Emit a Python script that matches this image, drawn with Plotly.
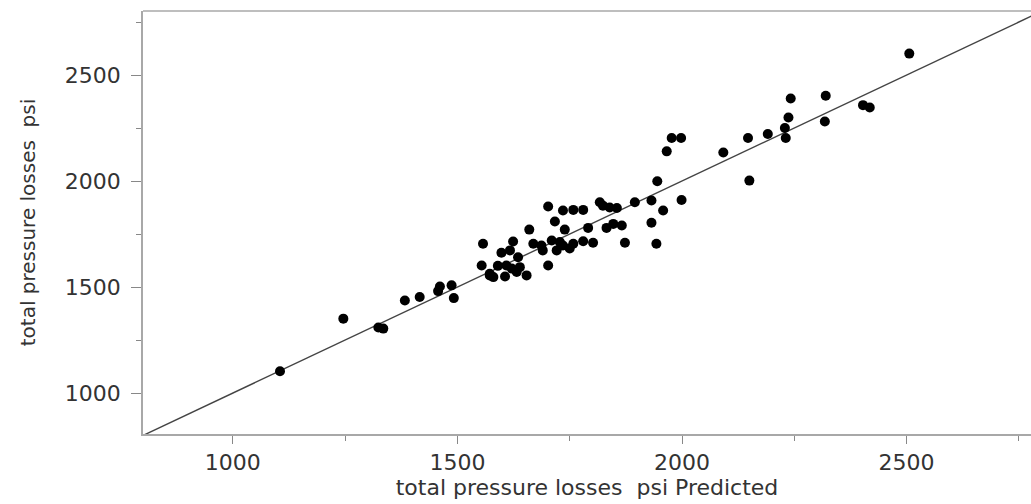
import plotly.graph_objects as go

# Predicted (x) vs actual (y) total pressure losses, psi
predicted = [1105, 1246, 1324, 1335, 1383, 1416, 1461, 1487, 1457, 1492,
             1572, 1580, 1606, 1632, 1654, 1554, 1609, 1621, 1639, 1702,
             1598, 1617, 1635, 1557, 1624, 1660, 1669, 1687, 1710, 1728,
             1717, 1739, 1735, 1758, 1780, 1802, 1690, 1721, 1750, 1873,
             1943, 1702, 1735, 1758, 1780, 1817, 1824, 1839, 1855, 1895,
             1932, 1999, 1958, 1932, 1791, 1832, 1847, 1866, 1945, 1966,
             1977, 1998, 2092, 2147, 2150, 2191, 2229, 2231, 2237, 2242,
             2320, 2318, 2403, 2418, 2506, 1572, 1590]
actual = [1103, 1351, 1309, 1304, 1437, 1453, 1503, 1508, 1481, 1448,
          1563, 1547, 1550, 1571, 1555, 1602, 1602, 1587, 1594, 1602,
          1662, 1673, 1641, 1704, 1715, 1771, 1704, 1696, 1720, 1712,
          1809, 1771, 1696, 1704, 1716, 1709, 1673, 1673, 1682, 1709,
          1704, 1880, 1861, 1864, 1864, 1900, 1884, 1875, 1873, 1900,
          1908, 1911, 1861, 1803, 1779, 1779, 1798, 1790, 1999, 2140,
          2203, 2203, 2135, 2203, 2002, 2222, 2250, 2203, 2300, 2389,
          2402, 2281, 2358, 2347, 2601, 1555, 1600]

# identity reference line (y = x)
diag = [700, 2900]

x_ticks = [1000, 1500, 2000, 2500]
y_ticks = [1000, 1500, 2000, 2500]
minor_ticks = [1250, 1750, 2250, 2750]

fig = go.Figure()
fig.add_trace(go.Scatter(x=diag, y=diag, mode="lines",
                         line=dict(color="#444444", width=1.4),
                         hoverinfo="skip", showlegend=False))
fig.add_trace(go.Scatter(x=predicted, y=actual, mode="markers",
                         marker=dict(color="black", size=10, line=dict(width=0)),
                         showlegend=False))

axis_font = dict(family="DejaVu Sans", size=22, color="#333333")

fig.update_layout(
    width=1031, height=504,
    margin=dict(l=143, r=0, t=11, b=70),
    plot_bgcolor="white", paper_bgcolor="white",
    xaxis=dict(range=[800, 2777], tickvals=x_ticks, ticks="outside", ticklen=8,
               tickcolor="#888888", tickwidth=1, showline=True, linecolor="#a8a8a8",
               linewidth=1.5, showgrid=False, zeroline=False, tickfont=axis_font,
               minor=dict(tickvals=minor_ticks, ticks="outside",
                          ticklen=5, tickcolor="#888888"),
               title=dict(text="total pressure losses\u00a0 psi Predicted",
                          font=dict(family="DejaVu Sans", size=22, color="#333333"),
                          standoff=4)),
    yaxis=dict(range=[807, 2802], tickvals=y_ticks, ticks="outside", ticklen=10,
               tickcolor="#888888", tickwidth=1, showline=True, linecolor="#a8a8a8",
               linewidth=1.5, showgrid=False, zeroline=False, tickfont=axis_font,
               ticklabelstandoff=6,
               minor=dict(tickvals=minor_ticks, ticks="outside",
                          ticklen=5, tickcolor="#888888"),
               title=dict(text="total pressure losses\u00a0 psi",
                          font=dict(family="DejaVu Sans", size=20, color="#333333"),
                          standoff=24)),
    shapes=[dict(type="line", xref="paper", yref="paper", x0=0, x1=1, y0=1, y1=1,
                 line=dict(color="#a8a8a8", width=1.5))],
)

fig.write_html("out.html")
